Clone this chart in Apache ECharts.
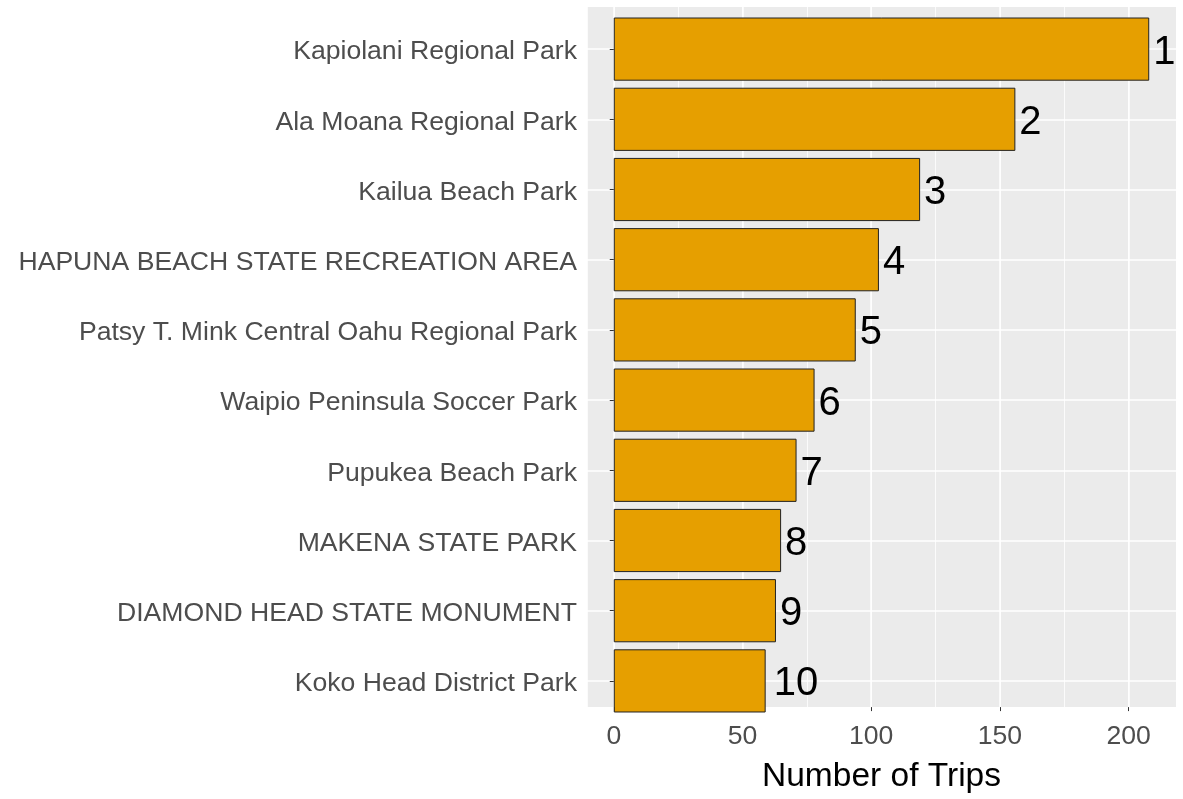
<!DOCTYPE html>
<html>
<head>
<meta charset="utf-8">
<script src="https://cdn.jsdelivr.net/npm/echarts@6/dist/echarts.min.js"></script>
<style>
  html, body { margin: 0; padding: 0; background: #fff; }
  #chart { width: 1183px; height: 799px; }
</style>
</head>
<body>
<div id="chart"></div>
<script>
  // top to bottom, as in the picture
  const parks = [
    'Kapiolani Regional Park',
    'Ala Moana Regional Park',
    'Kailua Beach Park',
    'HAPUNA BEACH STATE RECREATION AREA',
    'Patsy T. Mink Central Oahu Regional Park',
    'Waipio Peninsula Soccer Park',
    'Pupukea Beach Park',
    'MAKENA STATE PARK',
    'DIAMOND HEAD STATE MONUMENT',
    'Koko Head District Park'
  ];
  const tripCounts = [208, 156, 119, 103, 94, 78, 71, 65, 63, 59];
  const ranks = ['1', '2', '3', '4', '5', '6', '7', '8', '9', '10'];
  const xTicks = [0, 50, 100, 150, 200];

  const font = 'Liberation Sans, Arial, sans-serif';
  const tickGrey = '#4D4D4D';

  // ggplot-like 5% expansion of the continuous axis
  const maxTrips = Math.max(...tripCounts);
  const xMin = -0.05 * maxTrips;
  const xMax = maxTrips * 1.05;

  const chart = echarts.init(document.getElementById('chart'));

  chart.setOption({
    backgroundColor: '#fff',
    animation: false,
    grid: [
      // grey panel
      { left: 587, right: 7, top: 7, bottom: 76, show: true, backgroundColor: '#EBEBEB', borderWidth: 0 },
      // bars (0.6 category expansion leaves 0.1 band inside the panel)
      { left: 587, right: 7, top: 14, bottom: 83 }
    ],
    xAxis: [
      { // minor grid lines
        type: 'value', gridIndex: 0, position: 'top', min: xMin, max: xMax,
        minInterval: 25, maxInterval: 25,
        axisLine: { show: false }, axisTick: { show: false }, axisLabel: { show: false },
        splitLine: { show: true, lineStyle: { color: '#fff', width: 0.8 } }
      },
      { // major grid lines, ticks, labels
        type: 'value', gridIndex: 0, position: 'bottom', min: xMin, max: xMax,
        minInterval: 50, maxInterval: 50,
        name: 'Number of Trips', nameLocation: 'middle', nameGap: 40,
        nameTextStyle: { fontFamily: font, fontSize: 33.5, color: '#000' },
        axisLine: { show: false },
        axisTick: { show: true, length: 4, customValues: xTicks, lineStyle: { color: '#333', width: 1 } },
        axisLabel: { show: true, customValues: xTicks,
          margin: 12, lineHeight: 36, fontFamily: font, fontSize: 26.6, color: tickGrey },
        splitLine: { show: true, lineStyle: { color: '#fff', width: 1.5 } }
      },
      {
        type: 'value', gridIndex: 1, min: xMin, max: xMax, show: false
      }
    ],
    yAxis: [
      { type: 'value', gridIndex: 0, show: false },
      {
        type: 'category', gridIndex: 1, inverse: true, data: parks,
        axisLine: { show: false },
        axisTick: { show: true, alignWithLabel: true, length: 4, lineStyle: { color: '#333', width: 1 } },
        // small top-anchored line box nudges the glyphs down a few px
        axisLabel: { margin: 10, verticalAlign: 'top', lineHeight: 6,
          fontFamily: font, fontSize: 26.6, color: tickGrey },
        splitLine: { show: true, alignWithLabel: true, lineStyle: { color: '#fff', width: 1.5 } }
      }
    ],
    series: [{
      type: 'bar',
      xAxisIndex: 2,
      yAxisIndex: 1,
      barCategoryGap: '10%',
      itemStyle: { color: '#E69F00', borderColor: '#222', borderWidth: 1 },
      label: {
        show: true,
        position: 'right',
        verticalAlign: 'top',
        lineHeight: 7,
        fontFamily: font,
        fontSize: 40,
        color: '#000',
        formatter: p => ranks[p.dataIndex]
      },
      data: tripCounts.map((v, i) => ({ value: v, label: { distance: 4 * ranks[i].length } }))
    }]
  });
</script>
</body>
</html>
